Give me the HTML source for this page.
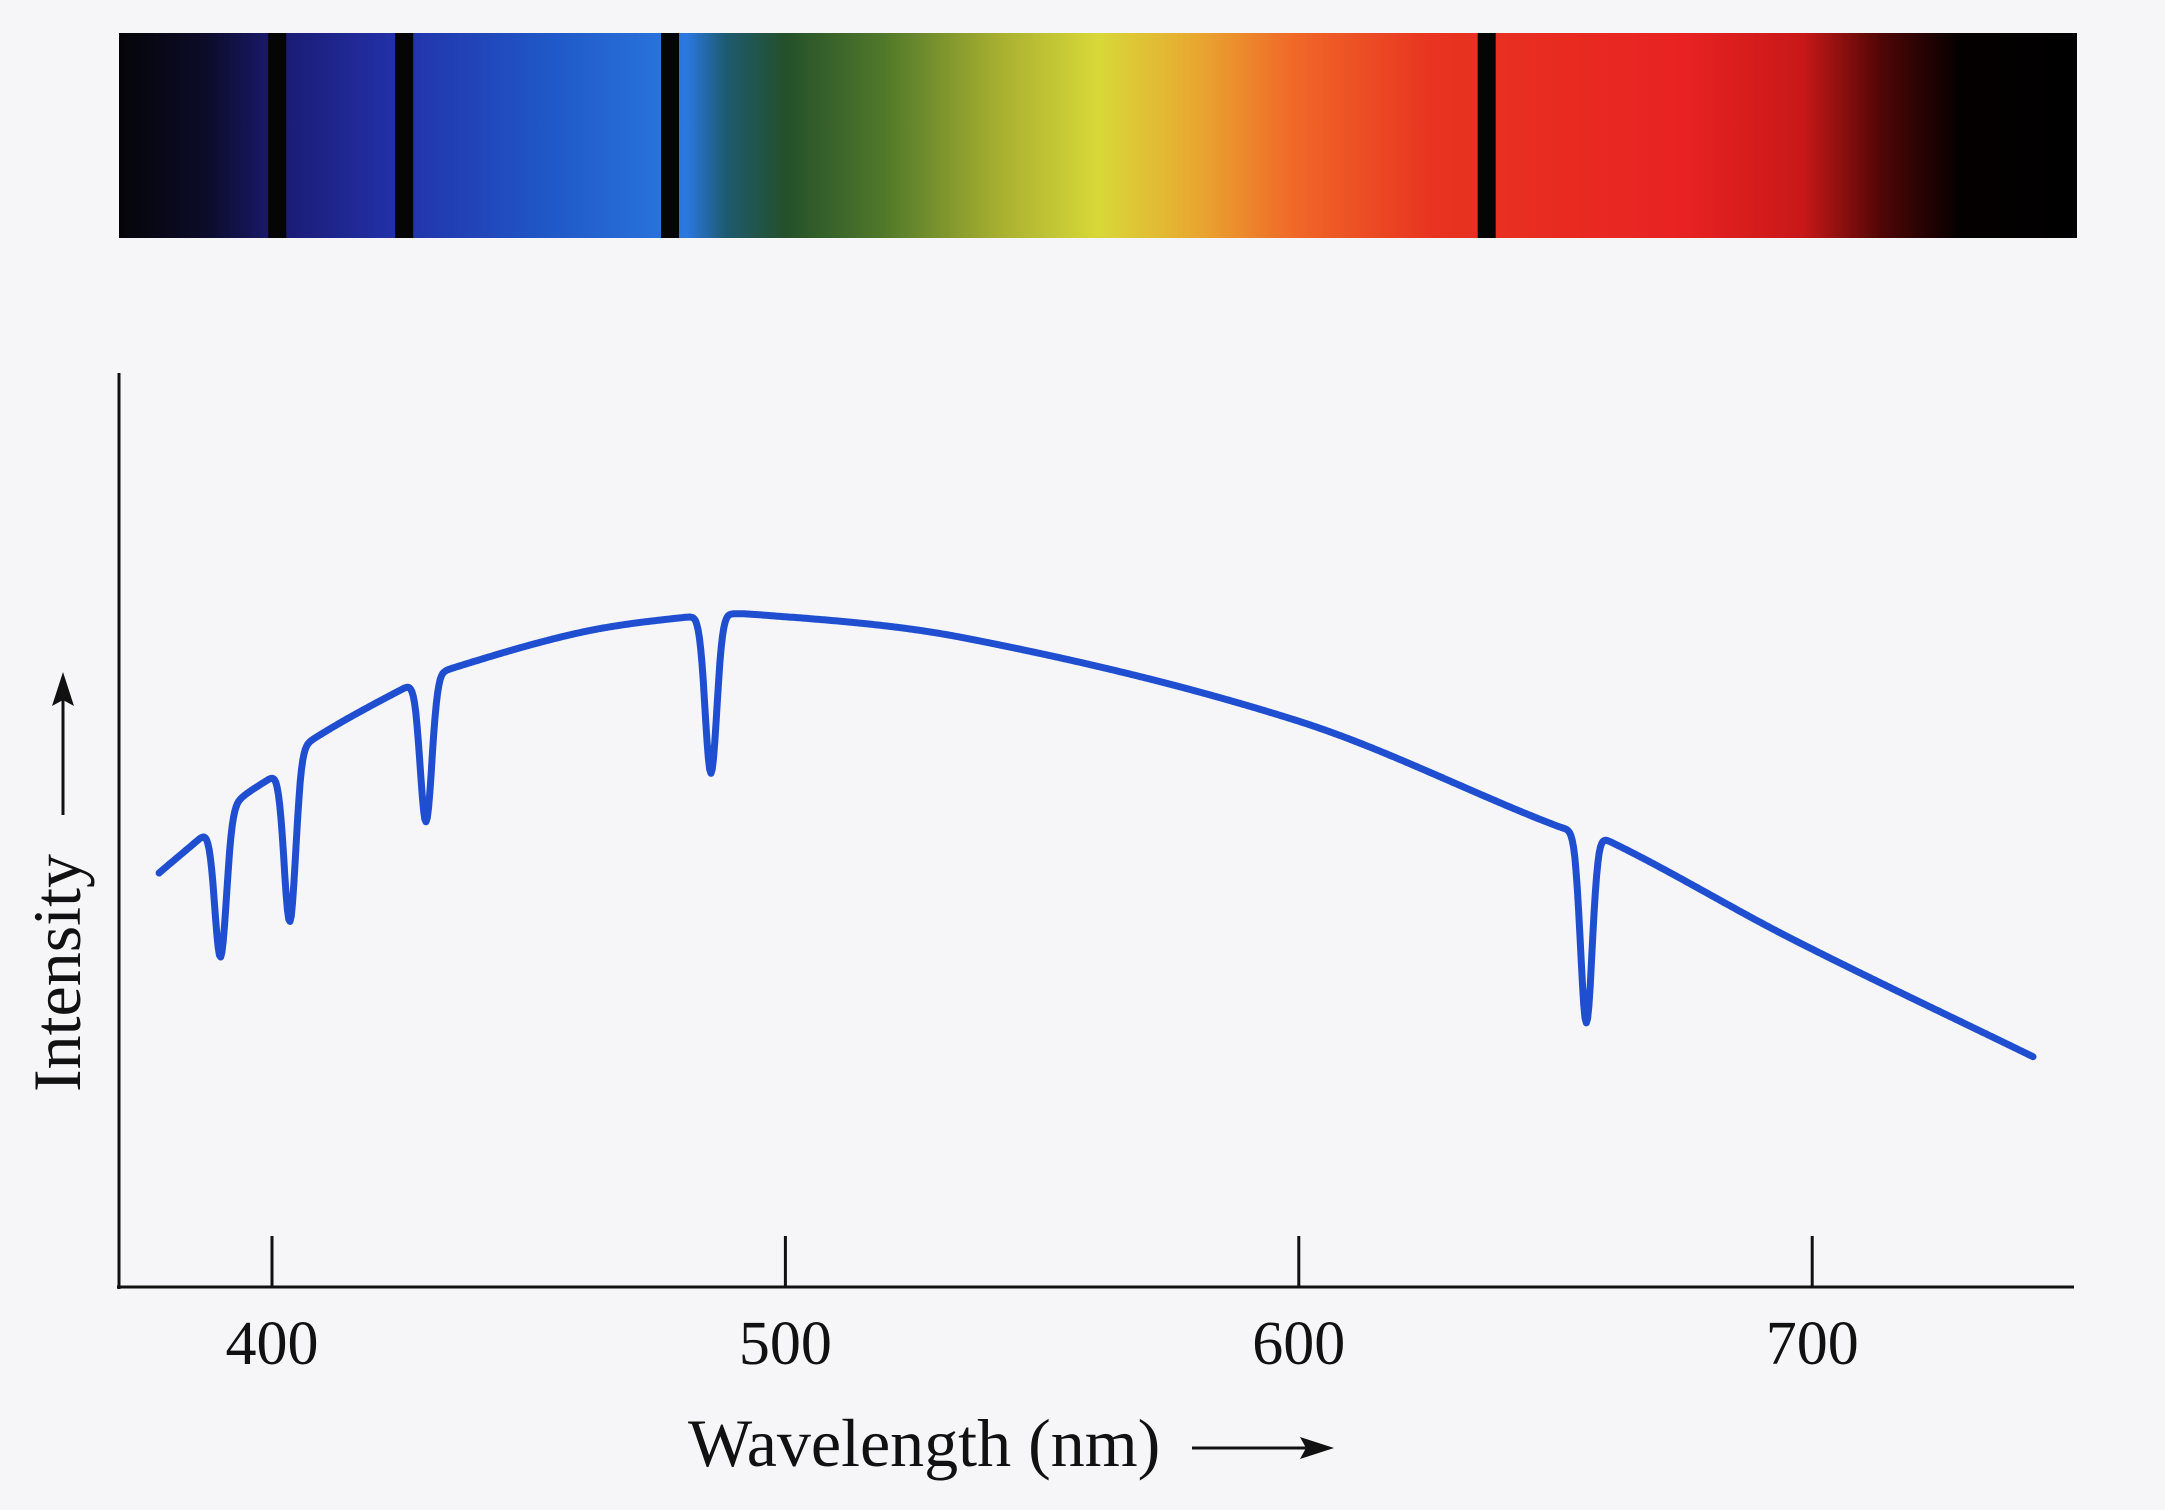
<!DOCTYPE html>
<html><head><meta charset="utf-8"><style>
html,body{margin:0;padding:0;background:#f6f6f9;}
svg{display:block;}
text{font-family:"Liberation Serif",serif;fill:#111;}
</style></head><body>
<svg id="chart" width="2165" height="1510" viewBox="0 0 2165 1510" xmlns="http://www.w3.org/2000/svg">
<defs>
<linearGradient id="spec" x1="0" x2="1" y1="0" y2="0">
<stop offset="0" stop-color="#050508"/>
<stop offset="0.045" stop-color="#0c0c2a"/>
<stop offset="0.08" stop-color="#1a1a70"/>
<stop offset="0.14" stop-color="#2230a8"/>
<stop offset="0.22" stop-color="#2058c8"/>
<stop offset="0.29" stop-color="#2a78e0"/>
<stop offset="0.31" stop-color="#1e5a70"/>
<stop offset="0.34" stop-color="#24502a"/>
<stop offset="0.39" stop-color="#50782a"/>
<stop offset="0.45" stop-color="#a8b030"/>
<stop offset="0.5" stop-color="#d8d838"/>
<stop offset="0.55" stop-color="#e8a830"/>
<stop offset="0.6" stop-color="#f06828"/>
<stop offset="0.67" stop-color="#e83420"/>
<stop offset="0.8" stop-color="#e82222"/>
<stop offset="0.86" stop-color="#c81818"/>
<stop offset="0.9" stop-color="#500606"/>
<stop offset="0.94" stop-color="#050000"/>
<stop offset="1" stop-color="#000"/>
</linearGradient>
</defs>
<rect x="119" y="33" width="1958" height="205" fill="url(#spec)"/>
<g id="barlines"></g>
<line x1="119" y1="373" x2="119" y2="1289" stroke="#111" stroke-width="3"/>
<line x1="117" y1="1287" x2="2074" y2="1287" stroke="#111" stroke-width="3"/>
<g id="ticks"></g>
<path id="curve" fill="none" stroke="#1f4fd0" stroke-width="7" stroke-linejoin="round" stroke-linecap="round"/>
<text x="688" y="1466" font-size="68">Wavelength (nm)</text>
<g>
<line x1="1192" y1="1448" x2="1310" y2="1448" stroke="#111" stroke-width="3"/>
<polygon points="1334,1448 1300,1437 1306,1448 1300,1459" fill="#111"/>
</g>
<text transform="translate(80,1092) rotate(-90)" font-size="68">Intensity</text>
<g>
<line x1="63" y1="815" x2="63" y2="695" stroke="#111" stroke-width="3"/>
<polygon points="63,672 52,706 63,700 74,706" fill="#111"/>
</g>
</svg>
<script>
const tickValues=[400,500,600,700];
const tickLabels=["400","500","600","700"];
const contWl=[378,389,394,401.6,406,426,434,460,481,493.6,535,600,650,660,696,743];
const contI=[45.3,50.6,53.5,56.5,59.2,65.6,67.5,71.6,73.3,73.6,71.0,61.9,50.5,48.9,38.1,25.2];
const dipWl=[390,403.5,430,485.5,656];
const dipI=[36.1,40.0,50.9,56.2,28.9];
const NS="http://www.w3.org/2000/svg";
function xs(l){return 272+(l-400)*5.134;}
function ys(v){return 1287-v*9.14;}
function xbar(l){return 670+(l-485.5)*4.79;}
function cont(l){
  const n=contWl.length;
  if(l<=contWl[0])return contI[0];
  if(l>=contWl[n-1])return contI[n-1];
  let i=1;while(l>contWl[i])i++;
  const x0=contWl[i-1],x1=contWl[i],y0=contI[i-1],y1=contI[i];
  const h=x1-x0,t=(l-x0)/h;
  const sl=(a,b)=>(contI[b]-contI[a])/(contWl[b]-contWl[a]);
  const m0=i-1>0?sl(i-2,i):sl(i-1,i);
  const m1=i<n-1?sl(i-1,i+1):sl(i-1,i);
  const t2=t*t,t3=t2*t;
  return (2*t3-3*t2+1)*y0+(t3-2*t2+t)*h*m0+(-2*t3+3*t2)*y1+(t3-t2)*h*m1;
}
function val(l){
  let v=cont(l);
  for(let k=0;k<dipWl.length;k++){const d=cont(dipWl[k])-dipI[k];const z=(l-dipWl[k])/1.6;v-=d*Math.exp(-z*z);}
  return v;
}
let d="";
for(let l=contWl[0];l<=contWl[contWl.length-1];l+=0.25){d+=(d?"L":"M")+xs(l).toFixed(1)+","+ys(val(l)).toFixed(1);}
document.getElementById('curve').setAttribute('d',d);
const tg=document.getElementById('ticks');
tickValues.forEach((t,i)=>{
  const ln=document.createElementNS(NS,'line');
  
  
  ln.setAttribute('x1',xs(t));ln.setAttribute('x2',xs(t));ln.setAttribute('y1',1236);ln.setAttribute('y2',1287);
  ln.setAttribute('stroke','#111');ln.setAttribute('stroke-width','3');tg.appendChild(ln);
  const tx=document.createElementNS(NS,'text');
  
  
  tx.setAttribute('x',xs(t));tx.setAttribute('y',1364);tx.setAttribute('text-anchor','middle');tx.setAttribute('font-size','62');
  tx.textContent=tickLabels[i];tg.appendChild(tx);
});
const bg=document.getElementById('barlines');
dipWl.slice(1).forEach(l=>{
  const r=document.createElementNS(NS,'rect');
  
  
  r.setAttribute('x',xbar(l)-9);r.setAttribute('y',33);r.setAttribute('width',18);r.setAttribute('height',205);r.setAttribute('fill','#050505');
  bg.appendChild(r);
});
</script>
</body></html>
